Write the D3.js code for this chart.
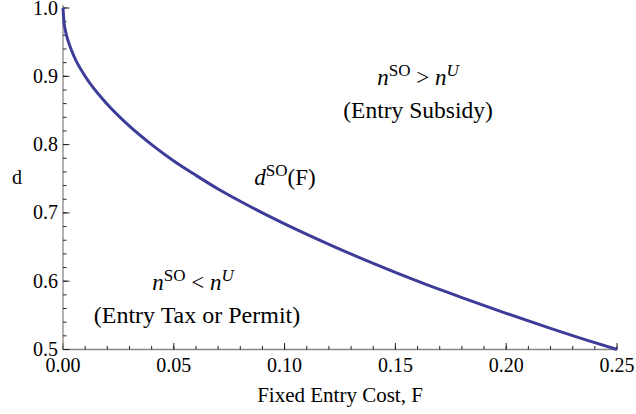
<!DOCTYPE html>
<html>
<head>
<meta charset="utf-8">
<script src="https://cdn.jsdelivr.net/npm/d3@7"></script>
<style>
  body { margin: 0; background: #fff; }
  svg { display: block; }
</style>
</head>
<body>
<svg width="636" height="414"></svg>
<script>
const svg = d3.select("svg")
  .attr("font-family", "'Liberation Serif', 'Times New Roman', Times, serif");

// values
const fixedCost = [0, 0.0005, 0.001, 0.0025, 0.005, 0.01, 0.02, 0.03, 0.04, 0.05, 0.06, 0.07, 0.08, 0.09, 0.10, 0.12, 0.14, 0.16, 0.18, 0.20, 0.22, 0.24, 0.25];
const dSO = [1.0, 0.978, 0.968, 0.95, 0.929, 0.90, 0.859, 0.827, 0.80, 0.776, 0.755, 0.735, 0.717, 0.70, 0.684, 0.654, 0.626, 0.60, 0.576, 0.553, 0.531, 0.51, 0.5];
const xTicks = [0.00, 0.05, 0.10, 0.15, 0.20, 0.25];
const yTicks = [0.5, 0.6, 0.7, 0.8, 0.9, 1.0];

const data = fixedCost.map((f, i) => ({ f: f, d: dSO[i] }));

const xScale = d3.scaleLinear().domain([0, 0.25]).range([63, 617]);
const yScale = d3.scaleLinear().domain([0.5, 1.0]).range([349.5, 8]);

const g = svg.append("g");

// minor ticks
const xMinor = d3.range(0, 0.2501, 0.01);
const yMinor = d3.range(0.5, 1.0001, 0.02);

// x axis
const xAxisG = g.append("g").attr("transform", `translate(0,${yScale(0.5)})`);
xAxisG.append("line")
  .attr("x1", xScale(0)).attr("x2", xScale(0.25))
  .attr("stroke", "#888").attr("stroke-width", 1.3);
xAxisG.selectAll(".minor").data(xMinor).enter().append("line")
  .attr("x1", (d) => xScale(d)).attr("x2", (d) => xScale(d))
  .attr("y1", 0).attr("y2", -3.5)
  .attr("stroke", "#222").attr("stroke-width", 1);
xAxisG.selectAll(".major").data(xTicks).enter().append("line")
  .attr("x1", (d) => xScale(d)).attr("x2", (d) => xScale(d))
  .attr("y1", 0).attr("y2", -6.5)
  .attr("stroke", "#222").attr("stroke-width", 1);
xAxisG.selectAll("text").data(xTicks).enter().append("text")
  .attr("x", (d) => xScale(d))
  .attr("y", 22.5)
  .attr("text-anchor", "middle")
  .style("font-size", "20px")
  .text((d) => d3.format(".2f")(d));

// y axis
const yAxisG = g.append("g").attr("transform", `translate(${xScale(0)},0)`);
yAxisG.append("line")
  .attr("y1", yScale(0.5)).attr("y2", yScale(1.0) - 3)
  .attr("stroke", "#888").attr("stroke-width", 1.3);
yAxisG.selectAll(".minor").data(yMinor).enter().append("line")
  .attr("y1", (d) => yScale(d)).attr("y2", (d) => yScale(d))
  .attr("x1", 0).attr("x2", 3.5)
  .attr("stroke", "#222").attr("stroke-width", 1);
yAxisG.selectAll(".major").data(yTicks).enter().append("line")
  .attr("y1", (d) => yScale(d)).attr("y2", (d) => yScale(d))
  .attr("x1", 0).attr("x2", 6.5)
  .attr("stroke", "#222").attr("stroke-width", 1);
yAxisG.selectAll("text").data(yTicks).enter().append("text")
  .attr("x", -5)
  .attr("y", (d) => yScale(d) + 6.5)
  .attr("text-anchor", "end")
  .style("font-size", "20px")
  .text((d) => d3.format(".1f")(d));

// axis labels
g.append("text")
  .attr("x", 340).attr("y", 402)
  .attr("text-anchor", "middle")
  .style("font-size", "21px")
  .text("Fixed Entry Cost, F");
g.append("text")
  .attr("x", 17).attr("y", 184)
  .attr("text-anchor", "middle")
  .style("font-size", "20px")
  .text("d");

// curve
const line = d3.line()
  .x((d) => xScale(d.f))
  .y((d) => yScale(d.d))
  .curve(d3.curveMonotoneX);
g.append("path")
  .datum(data)
  .attr("d", line)
  .attr("fill", "none")
  .attr("stroke", "#3d3d99")
  .attr("stroke-width", 3);

// annotations
const mathLabel = (x, y, parts, size) => {
  const t = g.append("text").attr("x", x).attr("y", y)
    .attr("text-anchor", "middle").style("font-size", size + "px");
  parts.forEach((p) => {
    const s = t.append("tspan").text(p.t);
    if (p.i) s.style("font-style", "italic");
    if (p.sup) s.style("font-size", Math.round(size * 0.72) + "px").attr("dy", p.dy);
    else if (p.dy) s.attr("dy", p.dy);
  });
  return t;
};

mathLabel(418, 85, [
  { t: "n", i: true },
  { t: "SO", sup: true, dy: -9 },
  { t: " > ", dy: 9 },
  { t: "n", i: true },
  { t: "U", i: true, sup: true, dy: -9 },
], 23);
g.append("text").attr("x", 418).attr("y", 118)
  .attr("text-anchor", "middle").style("font-size", "23.5px")
  .text("(Entry Subsidy)");

mathLabel(193, 290, [
  { t: "n", i: true },
  { t: "SO", sup: true, dy: -9 },
  { t: " < ", dy: 9 },
  { t: "n", i: true },
  { t: "U", i: true, sup: true, dy: -9 },
], 23);
g.append("text").attr("x", 197).attr("y", 323)
  .attr("text-anchor", "middle").style("font-size", "24px")
  .text("(Entry Tax or Permit)");

mathLabel(285, 185, [
  { t: "d", i: true },
  { t: "SO", sup: true, dy: -9 },
  { t: "(F)", dy: 9 },
], 23);
</script>
</body>
</html>
